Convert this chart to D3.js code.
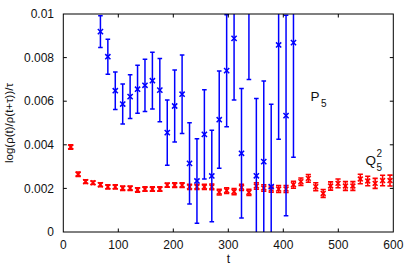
<!DOCTYPE html>
<html><head><meta charset="utf-8">
<script src="https://cdn.jsdelivr.net/npm/d3@7"></script>
<style>body{margin:0;background:#fff}svg{display:block}text{font-family:"Liberation Sans",Arial,sans-serif}</style>
</head><body><svg id="c" width="409" height="268"></svg>
<script>
// Q5^2 (red)
const qT = [13.5,27,40.5,54,67.5,81,94.5,108,121.5,135,148.5,162,175.5,189,202.5,216,229.5,243,256.5,270,283.5,297,310.5,324,337.5,351,364.5,378,391.5,405,418.5,432,445.5,459,472.5,486,499.5,513,526.5,540,553.5,567,580.5,594];
const qV = [0.0039,0.00265,0.00231,0.00226,0.00217,0.00207,0.00207,0.00201,0.00201,0.00193,0.00197,0.00197,0.00197,0.00215,0.00215,0.00215,0.00207,0.00207,0.00207,0.00207,0.00183,0.0019,0.00185,0.00205,0.00182,0.00211,0.00202,0.00197,0.00197,0.00197,0.00217,0.00231,0.00246,0.00208,0.00177,0.00211,0.00223,0.00211,0.00211,0.00243,0.00234,0.00223,0.00236,0.00236];
const qE = [0.0001,0.0001,0.00008,0.00008,0.00009,0.00009,0.00009,0.0001,0.0001,0.0001,0.0001,0.0001,0.0001,0.0001,0.00011,0.00011,0.00012,0.00012,0.00012,0.00013,0.00013,0.00013,0.00014,0.00014,0.00014,0.00015,0.00015,0.00015,0.00016,0.00016,0.00016,0.00017,0.00018,0.00018,0.00018,0.00019,0.0002,0.0002,0.0002,0.00022,0.00022,0.00023,0.00024,0.00025];
// P5 (blue)
const pT = [67.5,81,94.5,108,121.5,135,148.5,162,175.5,189,202.5,216,229.5,243,256.5,270,283.5,297,310.5,324,337.5,351,364.5,378,391.5,405,418.5];
const pV = [0.00919,0.00804,0.00648,0.00587,0.00621,0.00655,0.00673,0.00694,0.00651,0.00456,0.00578,0.00632,0.00315,0.00234,0.00448,0.00257,0.00515,0.0074,0.00888,0.00361,0.0102,0.00258,0.00323,0.00208,0.00858,0.00534,0.00869];
const pE = [0.00073,0.0008,0.00086,0.00092,0.001,0.0011,0.0012,0.0013,0.00145,0.0015,0.00165,0.0018,0.00186,0.00194,0.00205,0.0021,0.00223,0.00257,0.00282,0.00297,0.0032,0.00354,0.0037,0.00378,0.00433,0.0046,0.00526];
const xTicks = [0,100,200,300,400,500,600];
const yTicks = [0,0.002,0.004,0.006,0.008,0.01];
const yTickLabels = ["0","0.002","0.004","0.006","0.008","0.01"];

const svg = d3.select("#c");
const L=63.3, R=393.3, T=14, B=232;
const x = d3.scaleLinear().domain([0,600]).range([L,R]);
const y = d3.scaleLinear().domain([0,0.01]).range([B,T]);

svg.append("defs").append("clipPath").attr("id","clip").append("rect")
  .attr("x",L).attr("y",T).attr("width",R-L).attr("height",B-T);

const g = svg.append("g").attr("clip-path","url(#clip)");

function series(T_, V, E, color, sw, capW, mk) {
  const gg = g.append("g").attr("stroke",color).attr("fill","none");
  T_.forEach((t,i)=>{
    const cx = x(t), cy = y(V[i]), y1 = y(V[i]+E[i]), y2 = y(V[i]-E[i]);
    gg.append("line").attr("x1",cx).attr("x2",cx).attr("y1",y1).attr("y2",y2).attr("stroke-width",sw);
    gg.append("line").attr("x1",cx-capW).attr("x2",cx+capW).attr("y1",y1).attr("y2",y1).attr("stroke-width",sw);
    gg.append("line").attr("x1",cx-capW).attr("x2",cx+capW).attr("y1",y2).attr("y2",y2).attr("stroke-width",sw);
    gg.append("path").attr("d",`M${cx-mk},${cy-mk}L${cx+mk},${cy+mk}M${cx-mk},${cy+mk}L${cx+mk},${cy-mk}`).attr("stroke-width",sw);
  });
}
series(qT,qV,qE,"#ff0000",1.6,2.6,2.4);
series(pT,pV,pE,"#0000ff",1.5,2.3,2.6);

// frame
svg.append("rect").attr("x",L).attr("y",T).attr("width",R-L).attr("height",B-T)
  .attr("fill","none").attr("stroke","#000").attr("stroke-width",1);

// axes with inward ticks
const ax = svg.append("g").attr("stroke","#000").attr("stroke-width",1);
xTicks.forEach(v=>{
  if (v===0||v===600) return;
  ax.append("line").attr("x1",x(v)).attr("x2",x(v)).attr("y1",B).attr("y2",B-3.5);
  ax.append("line").attr("x1",x(v)).attr("x2",x(v)).attr("y1",T).attr("y2",T+3.5);
});
yTicks.forEach(v=>{
  if (v===0||v===0.01) return;
  ax.append("line").attr("x1",L).attr("x2",L+3.5).attr("y1",y(v)).attr("y2",y(v));
  ax.append("line").attr("x1",R).attr("x2",R-3.5).attr("y1",y(v)).attr("y2",y(v));
});
svg.append("g").selectAll("text").data(xTicks).join("text")
  .attr("x",d=>x(d)).attr("y",249).attr("text-anchor","middle")
  .attr("font-size",12).attr("fill","#111").text(d=>d);
svg.append("g").selectAll("text").data(yTicks).join("text")
  .attr("x",54).attr("y",d=>y(d)+4.2).attr("text-anchor","end")
  .attr("font-size",12).attr("fill","#111").text((d,i)=>yTickLabels[i]);

svg.append("text").attr("x",x(300)).attr("y",263).attr("text-anchor","middle")
  .attr("font-size",12).attr("fill","#111").text("t");
svg.append("text").attr("transform",`translate(13,${(T+B)/2}) rotate(-90)`)
  .attr("text-anchor","middle").attr("font-size",11.5).attr("fill","#111")
  .text("log(ρ(t)/ρ(t+τ))/τ");

// labels
const p = svg.append("text").attr("x",310.5).attr("y",100.5).attr("font-size",13.5).attr("fill","#111");
p.append("tspan").text("P");
p.append("tspan").attr("dx",1.5).attr("dy",6).attr("font-size",10).text("5");
svg.append("text").attr("x",365.5).attr("y",165).attr("font-size",13.5).attr("fill","#111").text("Q");
svg.append("text").attr("x",376.5).attr("y",157).attr("font-size",10).attr("fill","#111").text("2");
svg.append("text").attr("x",376.5).attr("y",170.5).attr("font-size",10).attr("fill","#111").text("5");
</script></body></html>
